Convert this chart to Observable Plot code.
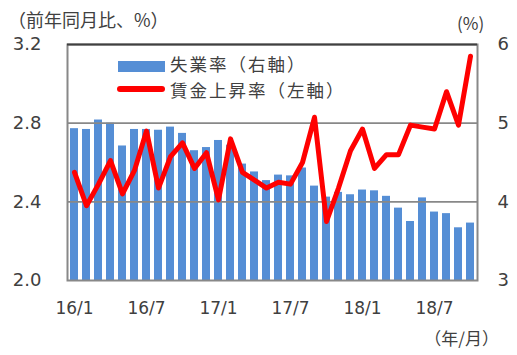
<!DOCTYPE html>
<html><head><meta charset="utf-8">
<script src="https://cdn.jsdelivr.net/npm/d3@7"></script>
<script src="https://cdn.jsdelivr.net/npm/@observablehq/plot@0.6"></script>
<style>
body{margin:0;background:#fff;}
#wrap{position:relative;width:517px;height:355px;font-family:"Noto Sans CJK JP";color:#404040;}
.abs{position:absolute;white-space:nowrap;line-height:1;}
.leg{font-size:17.5px;letter-spacing:2px;}
</style></head><body>
<div id="wrap">
  <div id="chart"></div>
  <div class="abs" style="left:8px;top:10px;font-size:18px;">（前年同月比、%）</div>
  <div class="abs" style="left:457px;top:14px;font-size:17px;">(%)</div>
  <div class="abs" style="right:18px;top:329px;font-size:17px;">（年/月）</div>
  <div class="abs" style="left:118px;top:61px;width:47px;height:11px;background:#558ED5;"></div>
  <div class="abs leg" style="left:170px;top:55px;">失業率（右軸）</div>
  <div class="abs" style="left:117px;top:86px;width:48px;height:6px;background:#ff0000;border-radius:3px;"></div>
  <div class="abs leg" style="left:170px;top:81px;">賃金上昇率（左軸）</div>
</div>
<script>
const months = ["16/1","16/2","16/3","16/4","16/5","16/6","16/7","16/8","16/9","16/10","16/11","16/12",
  "17/1","17/2","17/3","17/4","17/5","17/6","17/7","17/8","17/9","17/10","17/11","17/12",
  "18/1","18/2","18/3","18/4","18/5","18/6","18/7","18/8","18/9","18/10"];
const unemployment = [4.93,4.92,5.04,5.00,4.71,4.92,4.92,4.91,4.95,4.87,4.65,4.69,
  4.78,4.72,4.48,4.38,4.27,4.34,4.33,4.43,4.20,4.06,4.12,4.09,
  4.15,4.14,4.07,3.92,3.75,4.05,3.87,3.85,3.67,3.73];
const wageGrowth = [2.55,2.38,2.49,2.61,2.44,2.56,2.76,2.47,2.63,2.70,2.57,2.65,
  2.41,2.72,2.55,2.51,2.47,2.50,2.49,2.60,2.83,2.30,2.47,2.66,
  2.77,2.57,2.64,2.64,2.79,2.78,2.77,2.96,2.79,3.14];
const leftTicks = [2.0,2.4,2.8,3.2];
const rightTicks = [3,4,5,6];
const xTicks = ["16/1","16/7","17/1","17/7","18/1","18/7"];

const data = months.map((m,i)=>({month:m, u:unemployment[i], w:wageGrowth[i]}));
// right axis (3..6) mapped onto left axis (2.0..3.2)
const toLeft = u => leftTicks[0] + (u - rightTicks[0]) * (leftTicks[3]-leftTicks[0])/(rightTicks[3]-rightTicks[0]);

const chart = Plot.plot({
  width:517, height:355,
  marginLeft:67, marginRight:40, marginTop:44, marginBottom:75,
  x:{type:"band", domain:months, paddingInner:0.34, paddingOuter:0.17, label:null},
  y:{domain:[2.0,3.2], label:null},
  style:{fontFamily:"DejaVu Sans", fontSize:"18px", color:"#404040", background:"white"},
  marks:[
    Plot.barY(data,{x:"month", y1:leftTicks[0], y2:d=>toLeft(d.u), fill:"#558ED5"}),
    Plot.ruleY([2.4,2.8],{stroke:"#888", strokeWidth:1.6}),
    Plot.frame({stroke:"#888", strokeWidth:2}),
    Plot.ruleY([3.2],{stroke:"#404040", strokeWidth:2}),
    Plot.lineY(data,{x:"month", y:"w", stroke:"#ff0000", strokeWidth:5, strokeLinejoin:"round", strokeLinecap:"round"}),
    Plot.axisY(leftTicks,{anchor:"left", tickSize:0, tickPadding:26, tickFormat:d=>d.toFixed(1), fontSize:18}),
    Plot.axisY(leftTicks,{anchor:"right", tickSize:0, tickPadding:20, tickFormat:d=>String(rightTicks[leftTicks.indexOf(d)]), fontSize:18}),
    Plot.axisX(xTicks,{anchor:"bottom", tickSize:0, tickPadding:21, fontSize:17})
  ]
});
document.getElementById("chart").appendChild(chart);
</script>
</body></html>
